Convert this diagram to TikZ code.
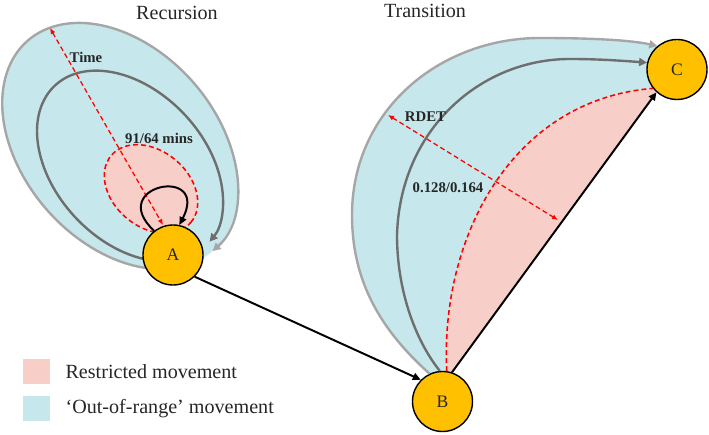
\documentclass[tikz,border=0pt]{standalone}
\usepackage{fontspec}
\setmainfont{Liberation Serif}
\usetikzlibrary{arrows.meta,positioning}

\definecolor{outblue}{HTML}{C6E7EB}
\definecolor{restpink}{HTML}{F8CEC8}
\definecolor{gold}{HTML}{FFC000}
\definecolor{lightline}{HTML}{A6A6A6}
\definecolor{darkline}{HTML}{6E6E6E}
\definecolor{txt}{HTML}{262626}

\pgfdeclarelayer{bg}
\pgfsetlayers{bg,main}

\tikzset{
  site/.style={circle, draw=black, line width=1pt, fill=gold, minimum size=1.5cm,
    inner sep=0pt, text=txt, font=\fontsize{12.5}{14}\selectfont},
  title/.style={text=txt, font=\fontsize{14.3}{17}\selectfont},
  tag/.style={text=txt, font=\bfseries\fontsize{10.5}{12}\selectfont},
  legbox/.style={minimum width=0.675cm, minimum height=0.625cm, inner sep=0pt},
  legtext/.style={inner sep=0pt, anchor=west, text=txt, font=\fontsize{14.3}{17}\selectfont},
}

\begin{document}
\begin{tikzpicture}[x=0.025cm, y=0.025cm,
    outerline/.style={lightline, line width=1.7pt, -{Triangle[length=2mm,width=2mm]}},
    innerline/.style={darkline, line width=1.7pt, -{Triangle[length=2mm,width=2mm]}},
    move/.style={black, line width=1.4pt, -{Triangle[length=2mm,width=1.8mm]}},
    limit/.style={red, line width=1.1pt, dash pattern=on 3.5pt off 2.2pt},
    measure/.style={red, line width=0.9pt, dash pattern=on 3.5pt off 2.2pt, {Latex[length=1.5mm,width=1.3mm]}-{Latex[length=1.5mm,width=1.3mm]}}
  ]
  \useasboundingbox (0,0) rectangle (709,434);

  % sites
  \node[site] (A) at (173,179) {A};
  \node[site] (B) at (442.5,32.5) {B};
  \node[site] (C) at (677,364.5) {C};

  \node[title] (rec-title) at (177,421) {Recursion};
  \node[title] (tra-title) at (425,423) {Transition};

  \begin{pgfonlayer}{bg}
    % recursion ranges
    \begin{scope}[shift={(120,288)}, rotate=-48.6]
      \fill[outblue] (0,0) ellipse [x radius=3.5cm, y radius=2.425cm];
      \draw[outerline] (-20:3.5cm and 2.425cm) arc [start angle=-20, end angle=-360, x radius=3.5cm, y radius=2.425cm];
    \end{scope}
    \begin{scope}[shift={(130,268)}, rotate=-47]
      \draw[innerline] (-40:2.75cm and 1.875cm) arc [start angle=-40, end angle=-355, x radius=2.75cm, y radius=1.875cm];
    \end{scope}
    \begin{scope}[shift={(151,245)}, rotate=-40]
      \filldraw[limit, fill=restpink] (0,0) ellipse [x radius=1.3cm, y radius=0.95cm];
    \end{scope}

    % transition ranges
    \fill[outblue] (B.115) .. controls (375,109) and (352,159) .. (352,219)
      .. controls (352,324) and (440,396) .. (540,396)
      .. controls (590,396) and (630,394) .. (C.130) -- (C.center) -- (C.218)
      .. controls (510,334) and (440,194) .. (B.82) -- (B.center) -- cycle;
    \fill[restpink] (B.82) .. controls (440,194) and (510,334) .. (C.218) -- (C.228) -- (B.72) -- cycle;
  \end{pgfonlayer}

  % recursion
  \coordinate (time-a) at (50,406);
  \coordinate (time-b) at (163,209);
  \draw[measure] (time-a) -- (time-b);
  \draw[move] (A.128) .. controls (105,249) and (210,269) .. (A.78);
  \node[tag] (time-tag) at (86,377) {Time};
  \node[tag] (rec-tag) at (159,296) {91/64 mins};

  % transition
  \draw[outerline] (B.115) .. controls (375,109) and (352,159) .. (352,219)
    .. controls (352,324) and (440,396) .. (540,396)
    .. controls (590,396) and (630,394) .. (C.130);
  \draw[innerline] (B.95) .. controls (415,94) and (397,144) .. (397,199)
    .. controls (400,304) and (480,375) .. (570,375)
    .. controls (600,375) and (625,373) .. (C.167);
  \draw[limit] (B.82) .. controls (440,194) and (510,334) .. (C.218);
  \draw[move] (B.72) -- (C.228);
  \coordinate (rdet-a) at (388,319);
  \coordinate (rdet-b) at (558,214);
  \draw[measure] (rdet-a) -- (rdet-b);
  \node[tag] (rdet-tag) at (425.5,317) {RDET};
  \node[tag] (tra-tag) at (448,246) {0.128/0.164};

  \draw[move] (A.-45) -- (B.135);

  % legend
  \node[legbox, fill=restpink] (restr-box) at (36.5,62.5) {};
  \node[legtext, right=0.375cm of restr-box] (restr-text) {Restricted movement};
  \node[legbox, fill=outblue] (oor-box) at (36.5,25.5) {};
  \node[legtext, right=0.375cm of oor-box] (oor-text) {‘Out-of-range’ movement};
\end{tikzpicture}
\end{document}
